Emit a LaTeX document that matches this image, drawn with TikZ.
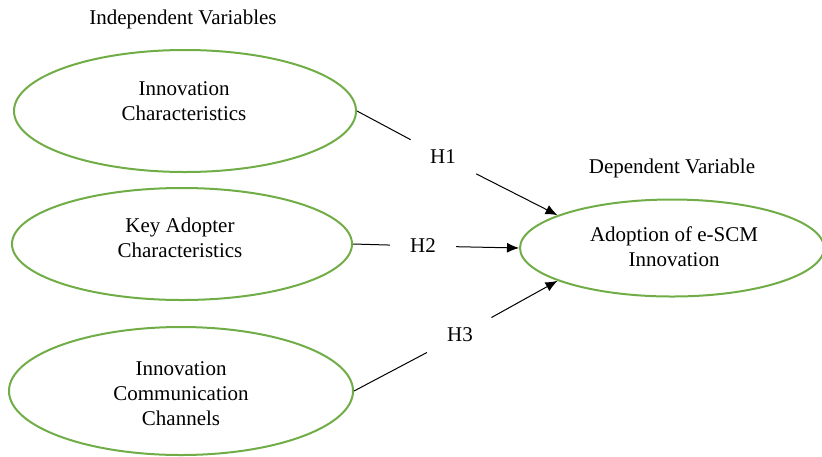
\documentclass[tikz,border=0pt]{standalone}
\usepackage{fontspec}
\setmainfont{Liberation Serif}
\usetikzlibrary{arrows.meta, shapes.geometric, positioning}
\usepackage{xcolor}
\definecolor{ellgreen}{RGB}{112,173,71}

\begin{document}
\begin{tikzpicture}[x=0.5pt, y=-0.5pt, font=\fontsize{10.5}{12.5}\selectfont]
                \tikzstyle{construct} = [shape=ellipse, draw=ellgreen, line width=1pt, inner sep=0pt];
                \tikzstyle{caption} = [align=center, inner sep=0pt];
                \tikzstyle{hyp} = [inner xsep=10pt, inner ysep=5pt];

                \useasboundingbox (0,0) rectangle (822,456);

                \node(IV) at (183,19) {Independent Variables};
                \node(DV) at (672,168) {Dependent Variable};

                \node[construct, minimum width=171pt, minimum height=61pt](IC) at (185,111) {};
                \node[construct, minimum width=170pt, minimum height=56pt](KA) at (182,244) {};
                \node[construct, minimum width=172pt, minimum height=64pt](CC) at (181,391) {};
                \node[construct, minimum width=152pt, minimum height=48.5pt](AD) at (672,248) {};

                % texts sit a little above the centres
                \node[caption](ICt) at (184,101) {Innovation\\Characteristics};
                \node[caption](KAt) at (180,238) {Key Adopter\\Characteristics};
                \node[caption](CCt) at (181,394) {Innovation\\Communication\\Channels};
                \node[caption](ADt) at (674,247) {Adoption of e-SCM\\Innovation};

                \node[hyp](H1) at (443,157) {H1};
                \node[hyp](H2) at (423,246) {H2};
                \node[hyp](H3) at (460,335) {H3};

                \draw[line width=0.5pt]
                    (IC.east) edge (H1)
                    (KA.east) edge (H2)
                    (CC.east) edge (H3)
                ;
                \draw[-{Latex[length=6pt,width=5pt]}, line width=0.5pt]
                    (H1) edge (AD.164.5)
                    (H2) edge (AD.west)
                    (H3) edge (AD.196.4)
                ;
            \end{tikzpicture}
\end{document}
